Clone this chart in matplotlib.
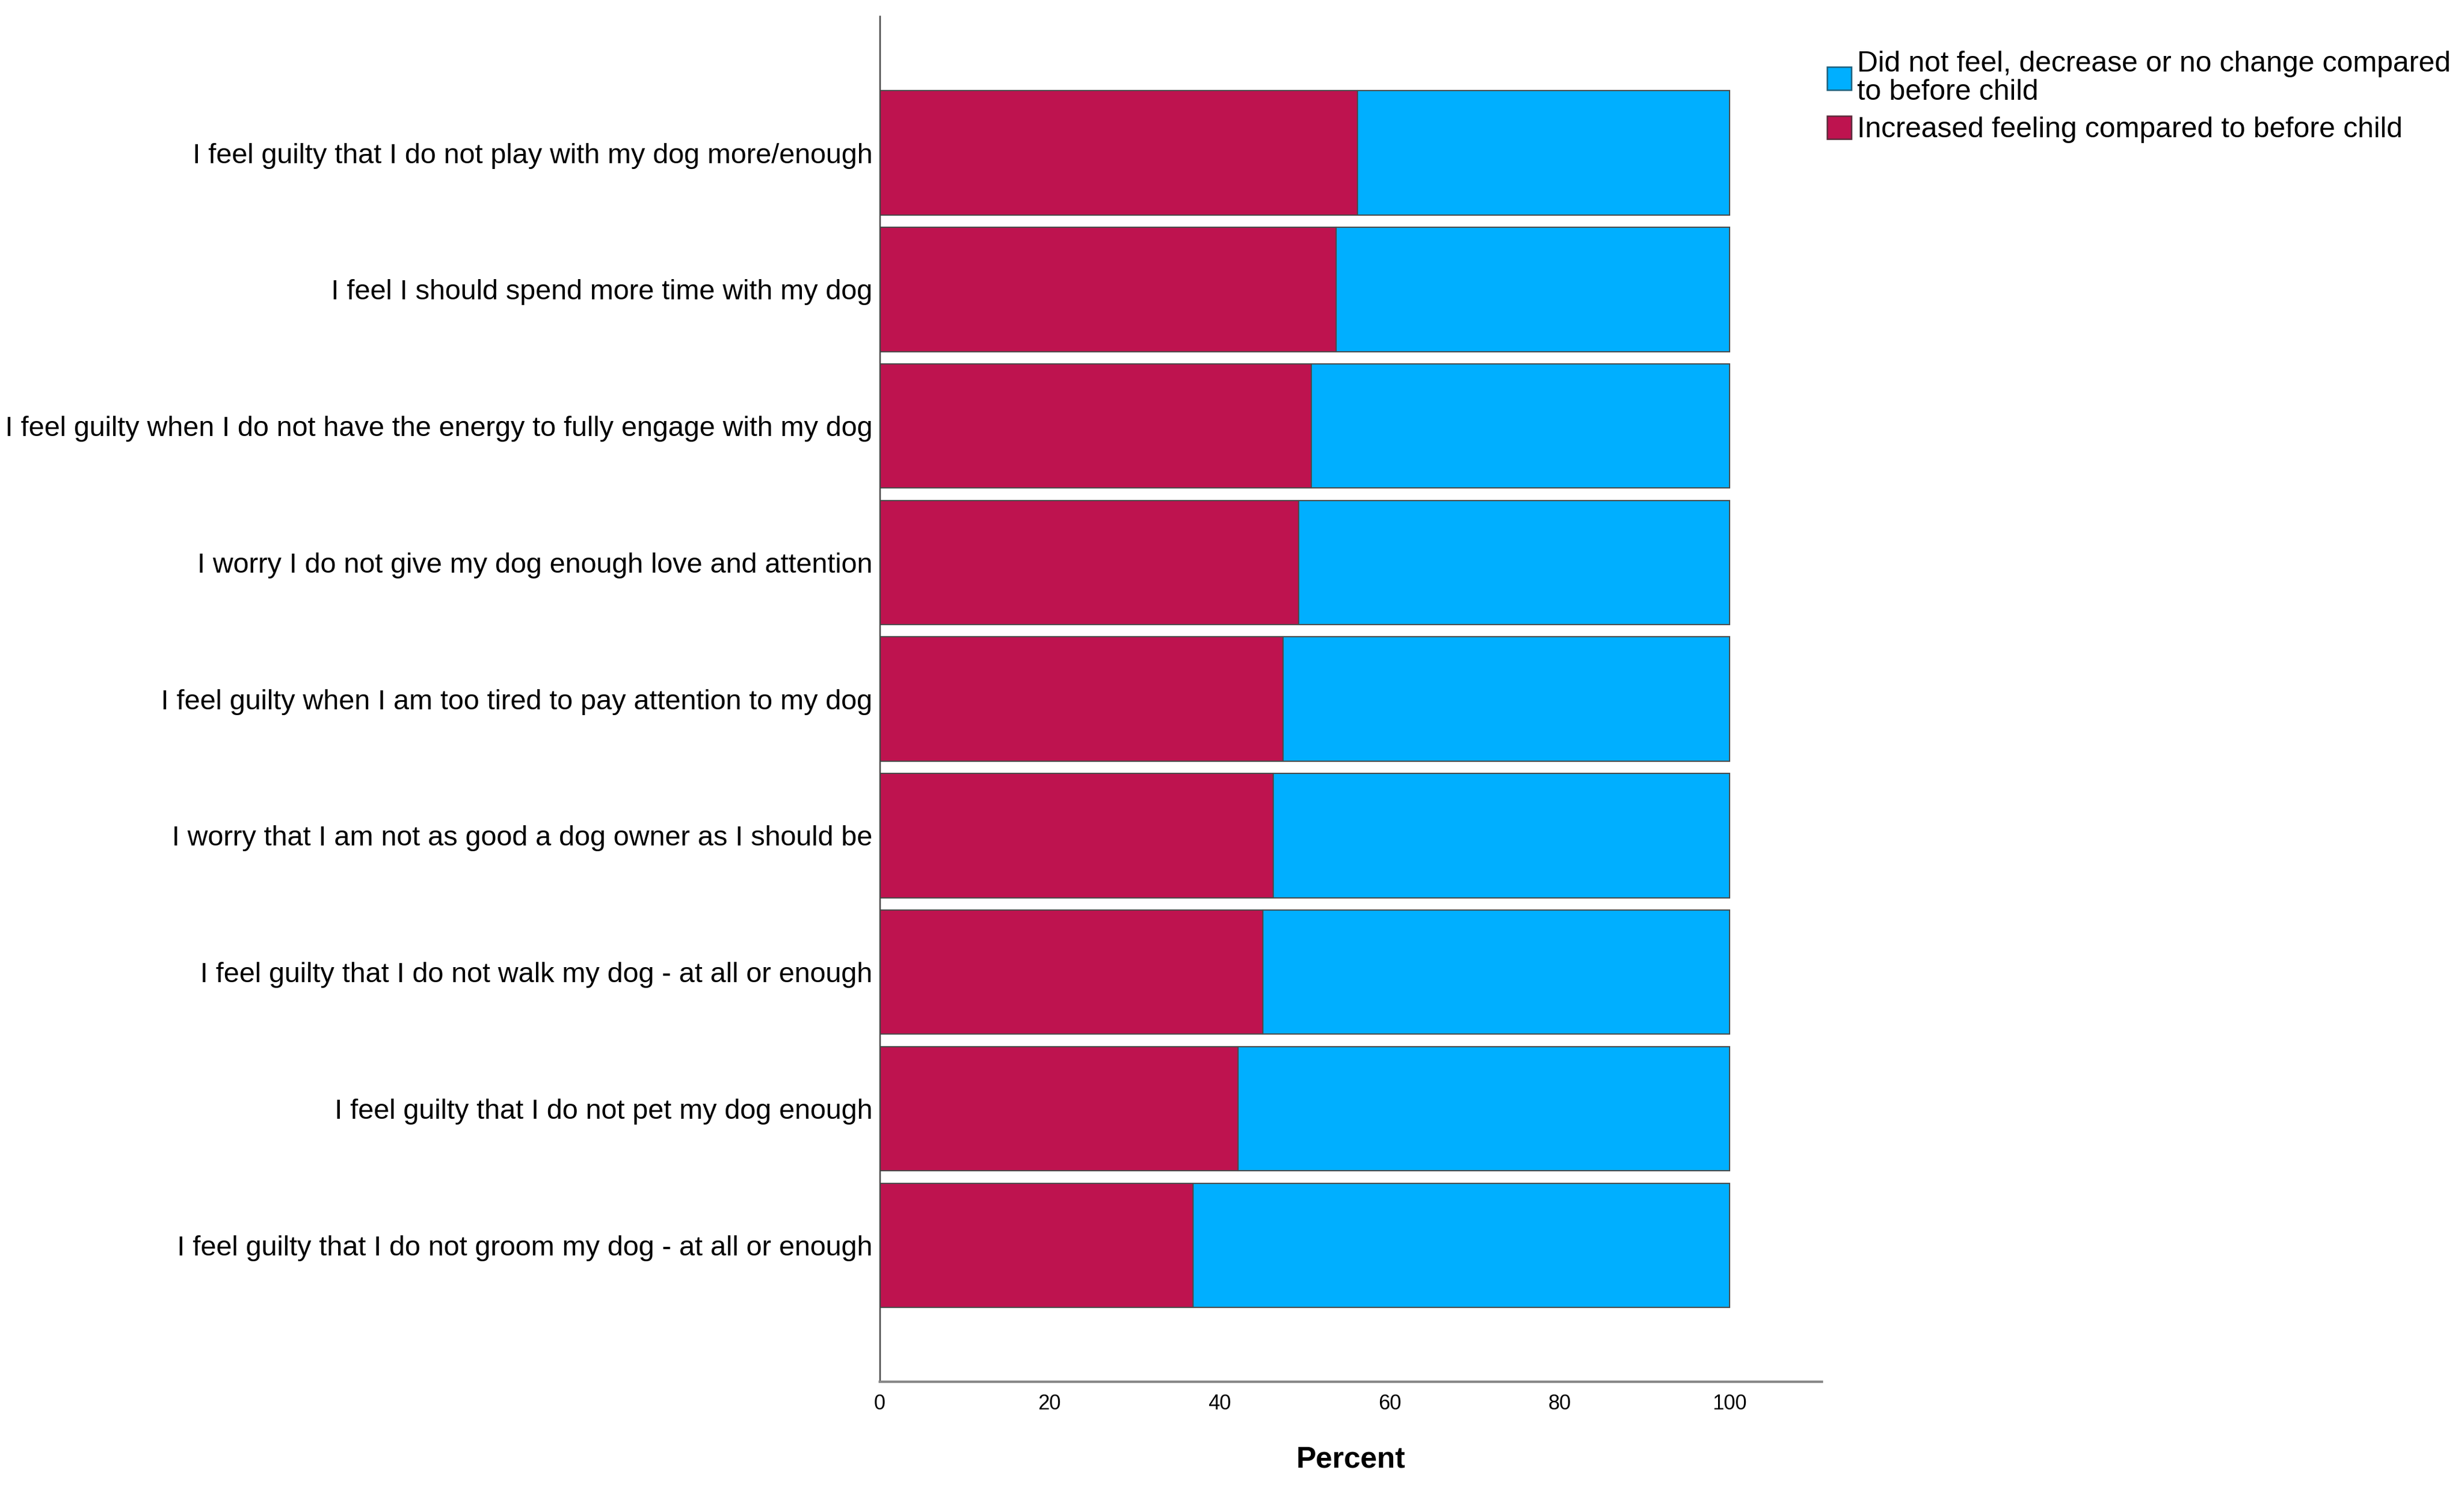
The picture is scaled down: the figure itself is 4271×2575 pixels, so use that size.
import matplotlib
matplotlib.use("Agg")
import matplotlib.pyplot as plt
from matplotlib.patches import Patch

plt.rcParams["font.family"] = ["Liberation Sans", "DejaVu Sans"]

ITEMS = [
    "I feel guilty that I do not play with my dog more/enough",
    "I feel I should spend more time with my dog",
    "I feel guilty when I do not have the energy to fully engage with my dog",
    "I worry I do not give my dog enough love and attention",
    "I feel guilty when I am too tired to pay attention to my dog",
    "I worry that I am not as good a dog owner as I should be",
    "I feel guilty that I do not walk my dog - at all or enough",
    "I feel guilty that I do not pet my dog enough",
    "I feel guilty that I do not groom my dog - at all or enough",
]
INCREASED = [56.2, 53.7, 50.8, 49.3, 47.5, 46.3, 45.1, 42.2, 36.9]
NO_CHANGE = [100 - v for v in INCREASED]

SERIES_LABELS = [
    "Did not feel, decrease or no change compared\nto before child",
    "Increased feeling compared to before child",
]
RED = "#BE134F"
BLUE = "#00AFFF"
X_TICKS = [0, 20, 40, 60, 80, 100]

fig = plt.figure(figsize=(4271 / 300, 2575 / 300), dpi=300)
ax = fig.add_axes([0.357, 0.0695, 0.3825, 0.9195])

pos = list(range(len(ITEMS)))
ax.barh(pos, INCREASED, height=0.91, color=RED, edgecolor="#4a4a4a", linewidth=0.5)
ax.barh(pos, NO_CHANGE, left=INCREASED, height=0.91, color=BLUE,
        edgecolor="#4a4a4a", linewidth=0.5)

ax.set_ylim(9.0, -1.0)
ax.set_xlim(0, 110.9)
ax.set_yticks(pos)
ax.set_yticklabels(ITEMS, fontsize=11.7)
ax.set_xticks(X_TICKS)
ax.set_xticklabels([str(t) for t in X_TICKS], fontsize=8.6)
ax.tick_params(axis="both", length=0)
ax.tick_params(axis="y", pad=3)
ax.tick_params(axis="x", pad=5)
ax.set_xlabel("Percent", fontsize=12.4, fontweight="bold", labelpad=13)

for side in ["top", "right"]:
    ax.spines[side].set_visible(False)
ax.spines["left"].set_color("#444444")
ax.spines["left"].set_linewidth(0.6)
ax.spines["bottom"].set_color("#888888")
ax.spines["bottom"].set_linewidth(1.0)

handles = [
    Patch(facecolor=BLUE, edgecolor="#1f5f7a", linewidth=0.6),
    Patch(facecolor=RED, edgecolor="#5a2a3a", linewidth=0.6),
]
leg = fig.legend(handles, SERIES_LABELS, loc="upper left",
                 bbox_to_anchor=(0.7415, 0.966), frameon=False, fontsize=12,
                 handlelength=0.85, handleheight=0.85, handletextpad=0.2,
                 labelspacing=0.35, borderaxespad=0, borderpad=0)
for t in leg.get_texts():
    t.set_linespacing(1.1)

fig.savefig("out.png", dpi=300)
